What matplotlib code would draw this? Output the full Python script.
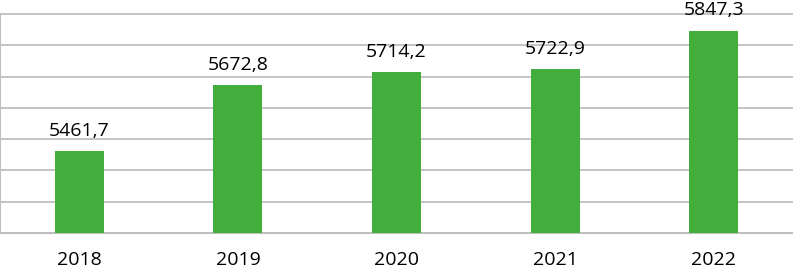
import matplotlib.pyplot as plt
import numpy as np

years = ['2018', '2019', '2020', '2021', '2022']
values = [5461.7, 5672.8, 5714.2, 5722.9, 5847.3]

plt.rcParams['font.family'] = ['Open Sans', 'DejaVu Sans']

fig = plt.figure(figsize=(7.93, 2.66), dpi=100)
ax = fig.add_axes([0.0, 0.125, 1.0, 0.875])

x = np.arange(len(years))
ax.bar(x, values, width=0.31, color='#43AE3C', zorder=3)
ax.set_xlim(-0.5, len(years) - 0.5)
ax.set_ylim(5200, 5945)
ax.set_yticks(np.arange(5200, 5901, 100))
ax.yaxis.grid(True, color='#BFBFBF', linewidth=1.3, zorder=0)
ax.set_yticklabels([])
ax.tick_params(axis='y', length=0)
ax.tick_params(axis='x', length=0, pad=13, labelsize=14)
ax.set_xticks(x)
ax.set_xticklabels(years)

for s in ['top', 'right']:
    ax.spines[s].set_visible(False)
ax.spines['left'].set_color('#BFBFBF')
ax.spines['left'].set_linewidth(1.5)
ax.spines['left'].set_bounds(5200, 5900)
ax.spines['bottom'].set_color('#BFBFBF')
ax.spines['bottom'].set_linewidth(1.5)

for xi, v in zip(x, values):
    ax.annotate(f'{v:.1f}'.replace('.', ','), (xi, v), xytext=(0, 8),
                textcoords='offset points', ha='center', va='bottom',
                fontsize=14, color='#000000')

fig.savefig('out.png', dpi=100)
